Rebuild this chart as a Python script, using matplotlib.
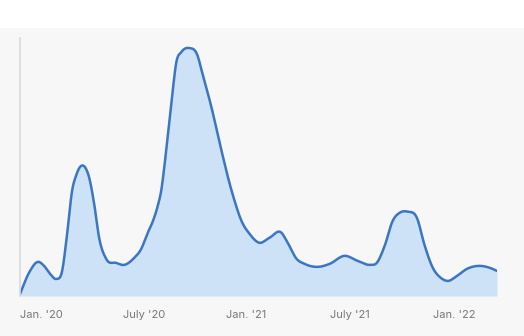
import numpy as np
import matplotlib
matplotlib.use("Agg")
import matplotlib.pyplot as plt
from matplotlib.patches import Rectangle

# months since Jan 2020 and values
months = [0.00, 0.52, 1.05, 1.40, 1.75, 2.10, 2.45, 2.74, 3.03, 3.26, 3.61, 4.02, 4.31,
          4.60, 5.01, 5.59, 6.06, 6.64, 7.05, 7.40, 7.69, 7.98, 8.21, 8.50, 8.80,
          9.09, 9.38, 9.84, 10.31, 10.60, 11.13, 11.71, 12.17, 12.47, 12.87, 13.34,
          13.92, 14.50, 15.20, 15.50, 16.08, 16.54, 17.30, 18.00, 18.87, 19.63, 20.33,
          20.74, 21.20, 21.67, 22.08, 22.54, 23.07, 23.53, 24.00, 24.47, 24.87, 25.40,
          25.98, 26.74, 27.32, 27.73]
values = [2, 23, 34, 30, 22, 17, 25, 62, 105, 120, 130, 118, 92,
          58, 37, 33, 31, 38, 47, 62, 73, 88, 105, 145, 192,
          233, 243, 247, 240, 222, 188, 145, 113, 95, 75, 62,
          53, 58, 63, 55, 37, 32, 29, 32, 40, 35, 31,
          33, 50, 75, 83, 84, 78, 50, 28, 18, 15, 20,
          27, 30, 28, 25]
tick_months = [0, 6, 12, 18, 24]
tick_labels = ["Jan. '20", "July '20", "Jan. '21", "July '21", "Jan. '22"]


def smooth_curve(x, y, xs):
    """Cubic Hermite curve through the points with averaged-secant tangents."""
    x = np.asarray(x, float); y = np.asarray(y, float)
    h = np.diff(x); d = np.diff(y) / h
    m = np.zeros_like(y)
    for k in range(1, len(x) - 1):
        m[k] = (d[k - 1] * h[k] + d[k] * h[k - 1]) / (h[k - 1] + h[k])
    m[0] = d[0]; m[-1] = d[-1]
    idx = np.clip(np.searchsorted(x, xs) - 1, 0, len(h) - 1)
    t = (xs - x[idx]) / h[idx]
    h00 = 2 * t**3 - 3 * t**2 + 1; h10 = t**3 - 2 * t**2 + t
    h01 = -2 * t**3 + 3 * t**2; h11 = t**3 - t**2
    return h00 * y[idx] + h10 * h[idx] * m[idx] + h01 * y[idx + 1] + h11 * h[idx] * m[idx + 1]


W, H = 524, 336
fig = plt.figure(figsize=(W / 100, H / 100), dpi=100)
fig.patch.set_facecolor("white")
bg = Rectangle((0, 0), 1, 1 - 28 / H, transform=fig.transFigure,
               facecolor="#f7f7f7", edgecolor="none", zorder=-10)
fig.patches.append(bg)

ax = fig.add_axes([20 / W, 1 - 296 / H, (497 - 20) / W, (296 - 38) / H])
ax.set_zorder(1)
ax.set_facecolor("none")

xs = np.linspace(months[0], months[-1], 1500)
ys = np.clip(smooth_curve(months, values, xs), 0, None)
ax.fill_between(xs, 0, ys, color="#cde2f6", linewidth=0, zorder=1)
ax.plot(xs, ys, color="#3a76c2", linewidth=1.8, solid_capstyle="round", zorder=2)

ax.set_xlim(months[0], months[-1])
ax.set_ylim(0, 257)
ax.set_yticks([])
ax.set_xticks(tick_months)
ax.set_xticklabels(tick_labels, ha="left", fontsize=8, color="#777777", family="Inter")
ax.tick_params(axis="x", length=0, pad=10)
for s in ["top", "right", "bottom"]:
    ax.spines[s].set_visible(False)
ax.spines["left"].set_color("#d9d9d9")
ax.spines["left"].set_linewidth(1.2)

fig.savefig("out.png", dpi=100, facecolor=fig.get_facecolor())
